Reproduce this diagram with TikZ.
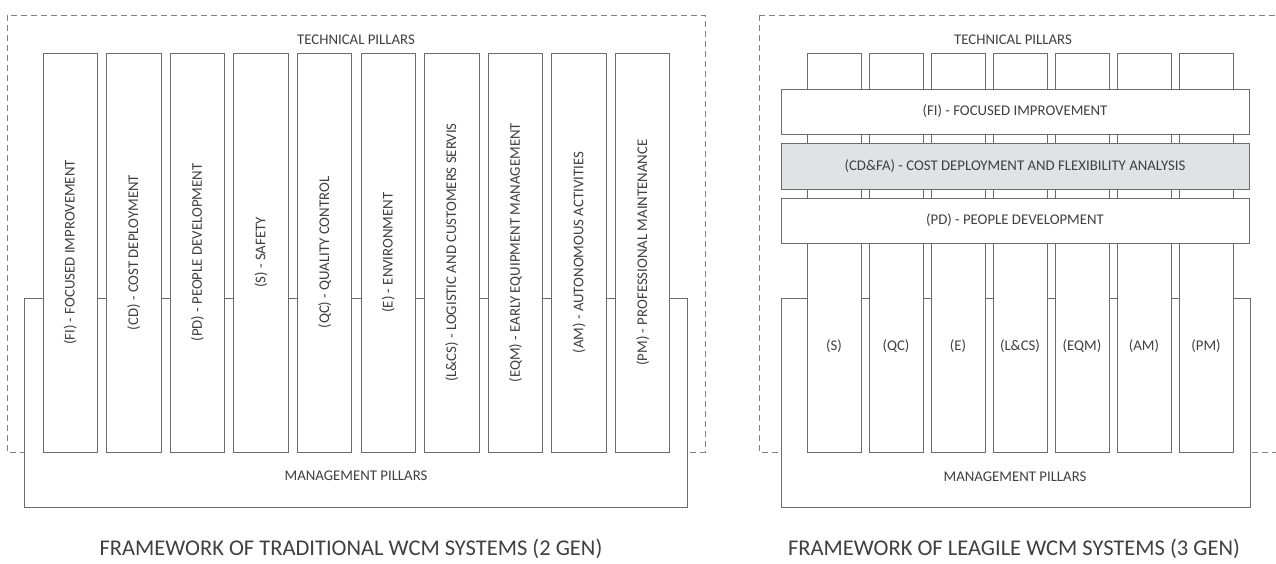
\documentclass[tikz,border=0pt]{standalone}
\usepackage{fontspec}
\setmainfont{Carlito}
\usetikzlibrary{positioning,calc}
\definecolor{linegray}{HTML}{6B6B6B}
\definecolor{textgray}{HTML}{404040}
\definecolor{bandgray}{HTML}{E1E2E4}

\begin{document}
\begin{tikzpicture}[
  x=1pt,y=-1pt,
  frame/.style={draw=linegray!85,line width=0.8pt,dash pattern=on 6pt off 4pt},
  mgmt/.style={draw=linegray,line width=0.9pt,fill=white,minimum width=663pt,minimum height=209pt,inner sep=0pt},
  pillar/.style={draw=linegray,line width=0.9pt,fill=white,rotate=90,minimum width=399pt,minimum height=54.5pt,inner sep=0pt,font=\fontsize{14.8}{16}\selectfont,text=textgray},
  band/.style={draw=linegray,line width=0.9pt,fill=white,minimum width=468pt,minimum height=45pt,inner sep=0pt,font=\fontsize{14.8}{16}\selectfont,text=textgray},
  lbl/.style={font=\fontsize{14.8}{16}\selectfont,text=textgray,inner sep=0pt},
  caption/.style={font=\fontsize{22.5}{26}\selectfont,text=textgray,inner sep=0pt}
]
\useasboundingbox (0,0) rectangle (1276,563);
\clip (0,0) rectangle (1276,563);

% traditional framework
\draw[frame] (7,15) rectangle (705,452);
\node[mgmt] (mgmtL) at (355.5,402.5) {};
\foreach \i/\nm/\txt in {0/fi/{(FI) - FOCUSED IMPROVEMENT},1/cd/{(CD) - COST DEPLOYMENT},2/pd/{(PD) - PEOPLE DEVELOPMENT},3/s/{(S) - SAFETY},4/qc/{(QC) - QUALITY CONTROL},5/e/{(E) - ENVIRONMENT},6/lcs/{(L\&CS) - LOGISTIC AND CUSTOMERS SERVIS},7/eqm/{(EQM) - EARLY EQUIPMENT MANAGEMENT},8/am/{(AM) - AUTONOMOUS ACTIVITIES},9/pm/{(PM) - PROFESSIONAL MAINTENANCE}}
  \node[pillar] (L-\nm) at (70.25+63.6*\i,252.5) {\txt};
\node[lbl] (techL) at (356,40) {TECHNICAL PILLARS};
\node[lbl] (mgmtL-txt) at (356,476) {MANAGEMENT PILLARS};
\node[caption] (capL) at (351,549) {FRAMEWORK OF TRADITIONAL WCM SYSTEMS (2 GEN)};

% leagile framework
\draw[frame] (759,15) rectangle (1290,452);
\node[mgmt,minimum width=469pt] (mgmtR) at (1015.5,402.5) {};
\foreach \i/\nm/\txt in {0/s/(S),1/qc/(QC),2/e/(E),3/lcs/(L\&CS),4/eqm/(EQM),5/am/(AM),6/pm/(PM)}{
  \node[pillar,minimum height=54pt] (R-\nm) at (834+62*\i,252.5) {};
  \node[lbl] (R-\nm-txt) at (834+62*\i,346) {\txt};
}
\node[band] (R-fi) at (1015,111.5) {(FI) - FOCUSED IMPROVEMENT};
\node[band,fill=bandgray,minimum height=46pt] (R-cdfa) at (1015,166) {(CD\&FA) - COST DEPLOYMENT AND FLEXIBILITY ANALYSIS};
\node[band] (R-pd) at (1015,220.5) {(PD) - PEOPLE DEVELOPMENT};
\node[lbl] (techR) at (1013,40) {TECHNICAL PILLARS};
\node[lbl] (mgmtR-txt) at (1015,477) {MANAGEMENT PILLARS};
\node[caption] (capR) at (1014,549) {FRAMEWORK OF LEAGILE WCM SYSTEMS (3 GEN)};
\end{tikzpicture}
\end{document}
